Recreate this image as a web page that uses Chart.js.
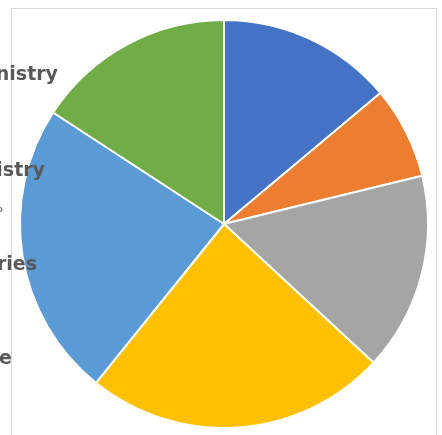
<!DOCTYPE html>
<html>
<head>
<meta charset="utf-8">
<script src="https://cdn.jsdelivr.net/npm/chart.js@4"></script>
<style>
  html, body { margin: 0; padding: 0; background: #fff; }
  #wrap { position: relative; width: 442px; height: 435px; }
</style>
</head>
<body>
<div id="wrap"><canvas id="pieChart" width="442" height="435"></canvas></div>
<script>
// ═══ DATA ═══
const categories = ['Group A', 'Group B', 'Group C', 'Group D', 'Group E', 'Group F'];
const shares     = [13.9, 7.3, 15.7, 23.9, 23.4, 15.8];
const colors     = ['#4472C4', '#ED7D31', '#A5A5A5', '#FFC000', '#5B9BD5', '#70AD47'];

// visible (clipped) label fragments on the left
const sideLabels = ['Ministry', 'Chemistry', '23%', 'Industries', 'Finance'];

// frame + clipped labels
const framePlugin = {
  id: 'frame',
  beforeDraw(chart) {
    const c = chart.ctx;
    c.save();
    c.strokeStyle = '#D9D9D9';
    c.lineWidth = 1;
    c.strokeRect(11.5, 8.5, 425, 460);
    c.restore();
  },
  afterDraw(chart) {
    const c = chart.ctx;
    c.save();
    c.fillStyle = '#595959';
    c.textAlign = 'right';
    c.textBaseline = 'alphabetic';
    c.font = 'bold 19px "DejaVu Sans"';
    c.fillText(sideLabels[0], 58, 80);
    c.fillText(sideLabels[1], 45, 176);
    c.fillText(sideLabels[3], 37, 270);
    c.fillText(sideLabels[4], 12, 364);
    c.font = '13px "DejaVu Sans"';
    c.fillText(sideLabels[2], 3, 212);
    c.restore();
  }
};

function initPie() {
  new Chart(document.getElementById('pieChart'), {
    type: 'pie',
    data: {
      labels: categories,
      datasets: [{
        data: shares,
        backgroundColor: colors,
        borderColor: '#FFFFFF',
        borderWidth: 2,
        hoverOffset: 0
      }]
    },
    options: {
      responsive: false,
      animation: false,
      layout: { padding: { left: 19, right: 13, top: 19, bottom: 6 } },
      plugins: {
        legend: { display: false },
        tooltip: { enabled: false }
      }
    },
    plugins: [framePlugin]
  });
}

document.addEventListener('DOMContentLoaded', initPie);
</script>
</body>
</html>
